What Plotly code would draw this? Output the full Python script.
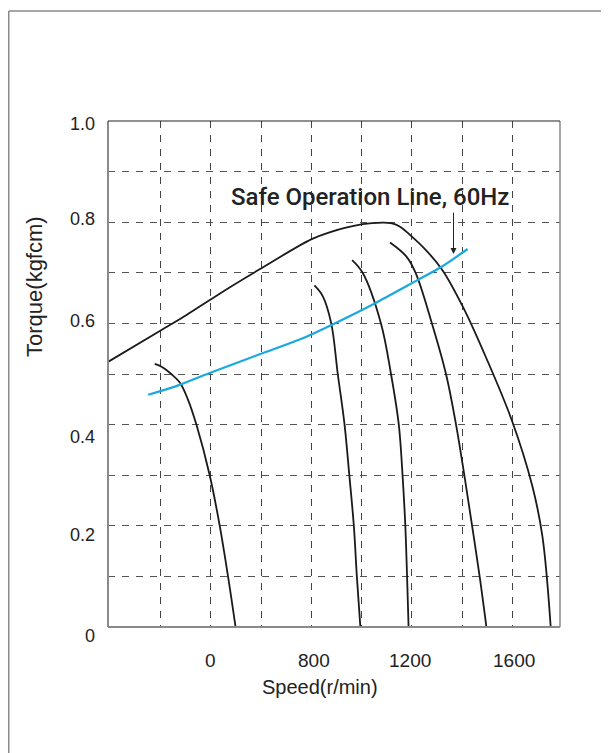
import plotly.graph_objects as go

# ---- data (speed in r/min, torque in kgfcm) ----
env_x = [-10, 203, 275, 474, 594, 799, 872, 1004, 1084, 1117, 1150, 1190, 1256, 1322, 1402, 1481, 1597, 1680, 1720, 1753]
env_y = [0.524, 0.587, 0.608, 0.671, 0.707, 0.766, 0.780, 0.796, 0.799, 0.798, 0.792, 0.776, 0.745, 0.705, 0.634, 0.549, 0.410, 0.278, 0.179, 0.0]

c1_x = [176, 205, 242, 276, 308, 342, 395, 435, 468, 498]
c1_y = [0.520, 0.514, 0.500, 0.483, 0.450, 0.400, 0.300, 0.200, 0.100, 0.0]

c2_x = [812, 845, 879, 905, 932, 951, 969, 981, 995]
c2_y = [0.675, 0.654, 0.600, 0.500, 0.400, 0.300, 0.200, 0.100, 0.0]

c3_x = [962, 1004, 1077, 1117, 1148, 1163, 1174, 1181, 1187]
c3_y = [0.725, 0.700, 0.600, 0.500, 0.400, 0.300, 0.200, 0.100, 0.0]

c4_x = [1113, 1177, 1215, 1280, 1336, 1376, 1409, 1440, 1470, 1497]
c4_y = [0.760, 0.733, 0.700, 0.600, 0.500, 0.400, 0.300, 0.200, 0.100, 0.0]

safe_x = [150, 262, 395, 594, 753, 872, 1058, 1217, 1322, 1422]
safe_y = [0.459, 0.476, 0.502, 0.539, 0.568, 0.595, 0.641, 0.684, 0.713, 0.747]

grid_x = [200, 400, 600, 800, 1000, 1200, 1400, 1600]
grid_y = [0.1, 0.2, 0.3, 0.4, 0.5, 0.6, 0.7, 0.8, 0.9]

xtick_vals = [400, 800, 1200, 1600]
xtick_text = ["0", "800", "1200", "1600"]
xtick_shift = [0, 3, -2, 2]
ytick_vals = [1.0, 0.8, 0.6, 0.4, 0.2, 0.0]
ytick_text = ["1.0", "0.8", "0.6", "0.4", "0.2", "0"]
ytick_shift = [-3, 3, 2, -12, -9, -9]

label_text = "Safe Operation Line, 60Hz"
label_x, label_y = 1035, 0.850
arrow_x, arrow_tip, arrow_tail = 1366, 0.737, 0.822

BLACK = "#1a1a1a"
BLUE = "#19a9e1"

fig = go.Figure()
for xs, ys in [(env_x, env_y), (c1_x, c1_y), (c2_x, c2_y), (c3_x, c3_y), (c4_x, c4_y)]:
    fig.add_trace(go.Scatter(x=xs, y=ys, mode="lines",
                             line=dict(color=BLACK, width=1.8, shape="spline", smoothing=1.0),
                             hoverinfo="skip", showlegend=False))
fig.add_trace(go.Scatter(x=safe_x, y=safe_y, mode="lines",
                         line=dict(color=BLUE, width=2.2, shape="spline", smoothing=0.8),
                         hoverinfo="skip", showlegend=False))

fig.update_layout(
    width=609, height=753,
    margin=dict(l=100, r=57, t=113, b=134),
    paper_bgcolor="white", plot_bgcolor="white",
    showlegend=False,
    xaxis=dict(range=[-10, 1790], tickvals=grid_x, showticklabels=False, ticks="",
               showgrid=True, gridcolor="#444444", gridwidth=1.1, griddash="7px,7px",
               zeroline=False, showline=False, fixedrange=True),
    yaxis=dict(range=[0, 1], tickvals=grid_y, showticklabels=False, ticks="",
               showgrid=True, gridcolor="#555555", gridwidth=1.1, griddash="7px,7px",
               zeroline=False, showline=False, fixedrange=True),
)

# frame
fig.add_shape(type="line", xref="paper", yref="paper", x0=0, x1=0, y0=0, y1=1,
              line=dict(color="#8a8a8a", width=2))
fig.add_shape(type="line", xref="paper", yref="paper", x0=0, x1=1, y0=0, y1=0,
              line=dict(color="#8a8a8a", width=2))
fig.add_shape(type="line", xref="paper", yref="paper", x0=1, x1=1, y0=0, y1=1,
              line=dict(color="#8a8a8a", width=1.5))
fig.add_shape(type="line", xref="paper", yref="paper", x0=0, x1=1, y0=1, y1=1,
              line=dict(color="#222222", width=1.2))
# outer border (top and left)
fig.add_shape(type="line", xref="paper", yref="paper", x0=-0.2196, x1=1.2, y0=1.2174, y1=1.2174,
              line=dict(color="#8a8a8a", width=1.5))
fig.add_shape(type="line", xref="paper", yref="paper", x0=-0.2196, x1=-0.2196, y0=-0.3, y1=1.2174,
              line=dict(color="#8a8a8a", width=1.5))

tick_font = dict(family="Liberation Sans, Arial, sans-serif", size=19, color="#222222")
for v, t, s in zip(xtick_vals, xtick_text, xtick_shift):
    fig.add_annotation(x=v, y=0, xref="x", yref="paper", text=t, showarrow=False,
                       xshift=s, yshift=-33, xanchor="center", yanchor="middle", font=tick_font)
for v, t, s in zip(ytick_vals, ytick_text, ytick_shift):
    fig.add_annotation(x=0, y=v, xref="paper", yref="y", text=t, showarrow=False,
                       xshift=-11, yshift=s, xanchor="right", yanchor="middle",
                       font=dict(family="Liberation Sans, Arial, sans-serif", size=18, color="#222222"))

fig.add_annotation(x=0.469, y=0, xref="paper", yref="paper", text="Speed(r/min)", showarrow=False,
                   yshift=-60, xanchor="center", yanchor="middle",
                   font=dict(family="Liberation Sans, Arial, sans-serif", size=20, color="#222222"))
fig.add_annotation(x=0, y=0.672, xref="paper", yref="paper", text="Torque(kgfcm)", showarrow=False,
                   xshift=-73, textangle=-90, xanchor="center", yanchor="middle",
                   font=dict(family="Liberation Sans, Arial, sans-serif", size=22, color="#222222"))

fig.add_annotation(x=label_x, y=label_y, xref="x", yref="y", text=label_text, showarrow=False,
                   xanchor="center", yanchor="middle",
                   font=dict(family="Roboto, Liberation Sans", size=24, weight=500, color="#222222"))
fig.add_annotation(x=arrow_x, y=arrow_tip, ax=arrow_x, ay=arrow_tail, xref="x", yref="y",
                   axref="x", ayref="y", text="", showarrow=True, arrowhead=2,
                   arrowsize=1.2, arrowwidth=1, arrowcolor="#222222")

fig.write_html("out.html")
